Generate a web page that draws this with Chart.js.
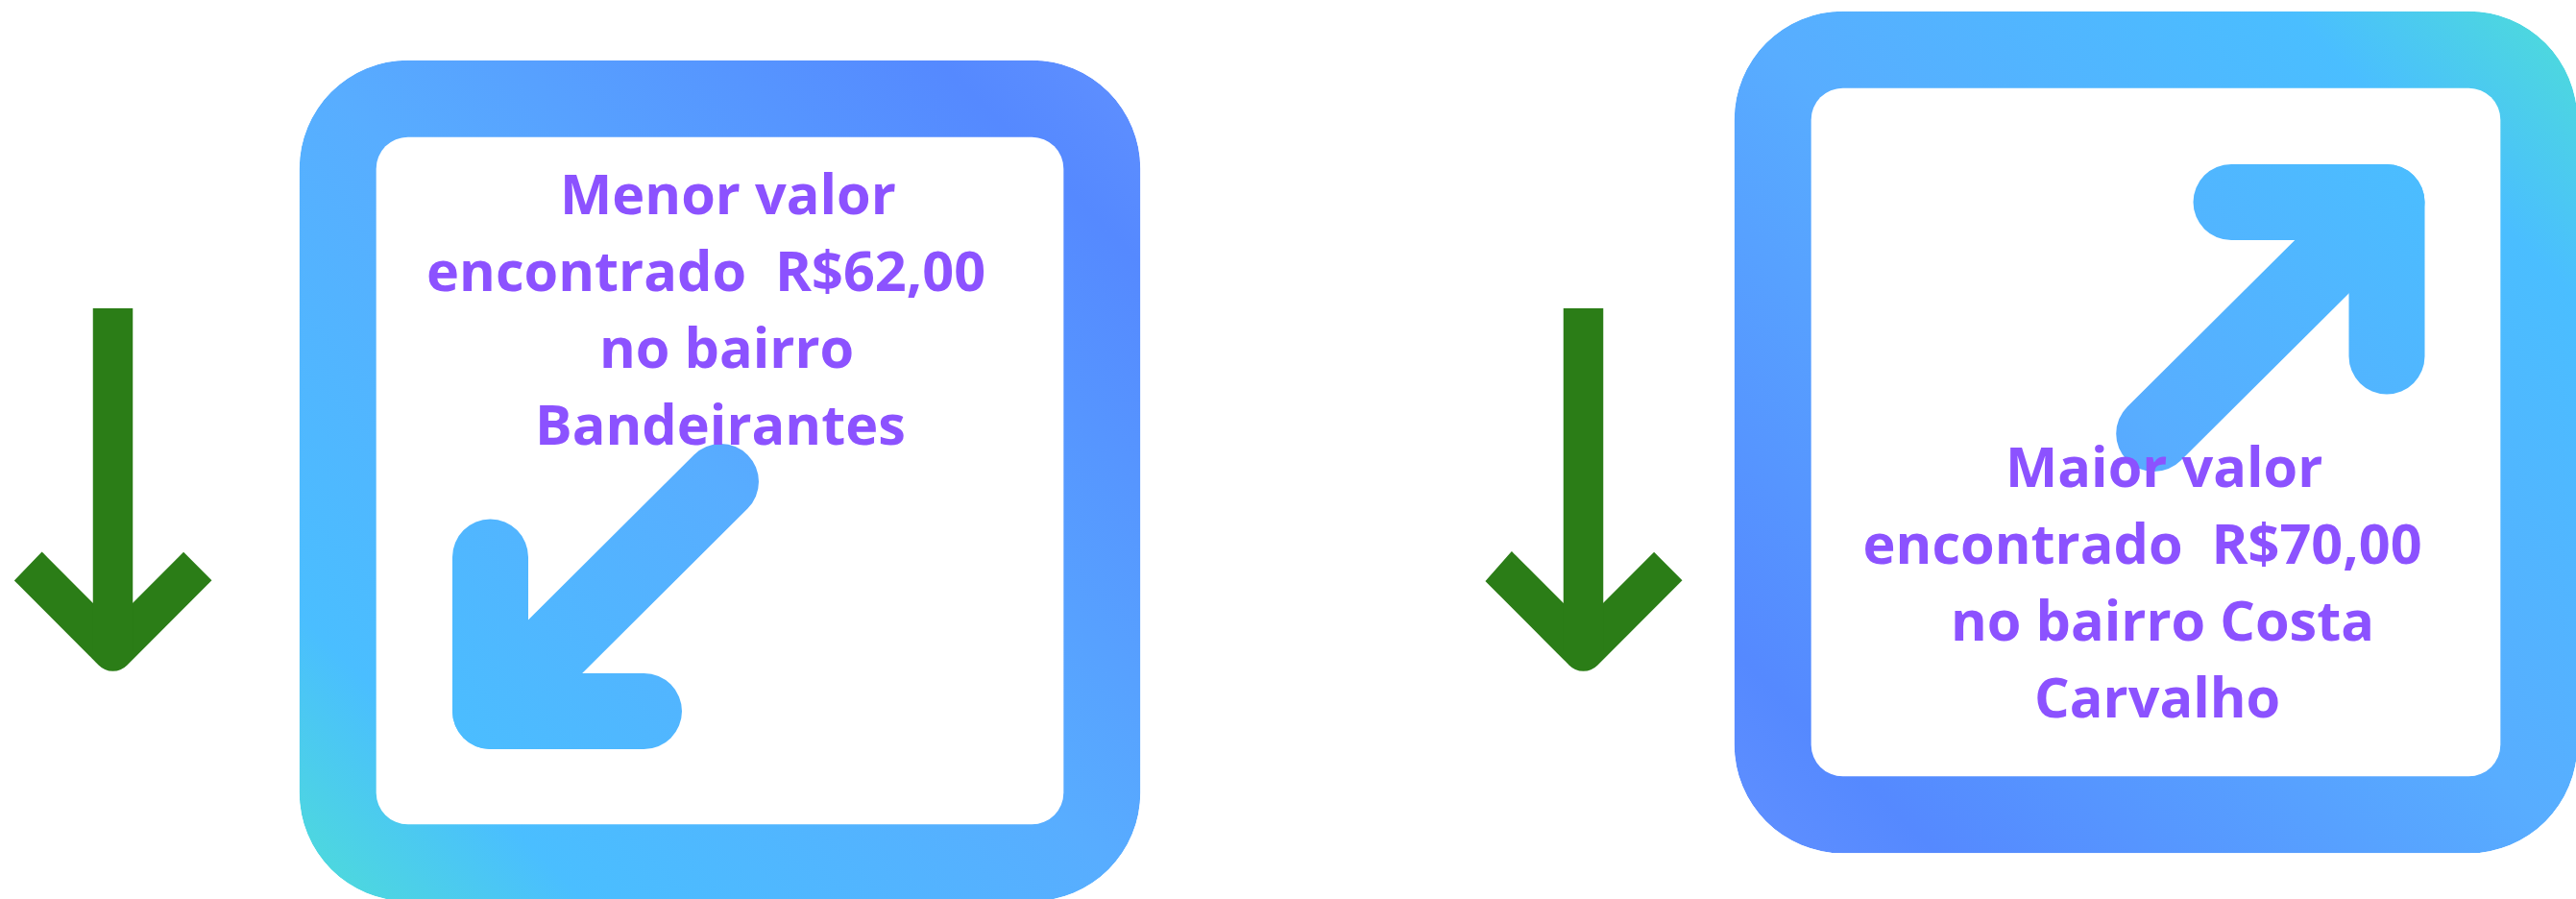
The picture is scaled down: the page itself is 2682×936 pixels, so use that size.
<!DOCTYPE html>
<html>
<head>
<meta charset="utf-8">
<style>html,body{margin:0;padding:0;background:#fff;overflow:hidden}canvas{display:block}</style>
<script src="https://cdn.jsdelivr.net/npm/chart.js@4/dist/chart.umd.min.js"></script>
</head>
<body>
<canvas id="c" width="2682" height="936"></canvas>
<script>
// panel frames: centre x, y range
const panelCentreX = [749.5, 2244.5];
const panelRangeY = [[63, 938], [12, 888]];
// gradient axes of the two icons, [x0,y0,x1,y1]
const gradientAxes = [[312, 938, 1187, 63], [2682, 12, 1805, 888]];
const gradientStops = [[0.03, '#4DD8DE'], [0.17, '#4ABEFF'], [0.5, '#58ADFF'], [0.88, '#5589FF'], [1, '#6090FF']];
// arrows inside the panels
const lowArrowBarb = [[510.5, 580], [510.5, 740.5], [670.5, 740.5]];
const lowArrowShaft = [[750.5, 501.5], [510.5, 740.5]];
const highArrowBarb = [[2323, 210.5], [2485, 210.5], [2485, 371]];
const highArrowShaft = [[2242.7, 451.5], [2485, 210.5]];
// green arrows
const greenShaftLeft = [[117.5, 321], [117.5, 678]];
const greenHeadLeft = [[29.2, 589.5], [117.5, 678], [205.8, 589.5]];
const greenShaftRight = [[1648.5, 321], [1648.5, 678]];
const greenHeadRight = [[1560.2, 589.5], [1648.5, 678], [1736.8, 589.5]];
// text lines: [text, left x, baseline y]
const lowText = [['Menor valor', 583, 223], ['encontrado  R$62,00', 444, 303], ['no bairro', 624, 383], ['Bandeirantes', 557, 463]];
const highText = [['Maior valor', 2088, 507], ['encontrado  R$70,00', 1939.5, 587], ['no bairro Costa', 2031, 667], ['Carvalho', 2118, 747]];

const pts = a => a.map(p => ({x: p[0], y: p[1]}));
function grad(i) {
  return ctx => {
    const ch = ctx.chart, sx = ch.scales && ch.scales.x, sy = ch.scales && ch.scales.y;
    if (!sx || !sy) return '#4ABEFF';
    const a = gradientAxes[i];
    const c = [sx.getPixelForValue(a[0]), sy.getPixelForValue(a[1]), sx.getPixelForValue(a[2]), sy.getPixelForValue(a[3])];
    if (!c.every(Number.isFinite)) return '#4ABEFF';
    const g = ch.ctx.createLinearGradient(c[0], c[1], c[2], c[3]);
    gradientStops.forEach(s => g.addColorStop(s[0], s[1]));
    return g;
  };
}
const panel = (i, w) => ({
  type: 'bar', order: 5, grouped: false, barThickness: w,
  data: [{x: panelCentreX[i], y: panelRangeY[i]}],
  backgroundColor: '#FFFFFF', borderColor: grad(i), borderWidth: 80,
  borderRadius: 113, borderSkipped: false
});
const stroke = (data, color, cap, order) => ({
  type: 'line', order, data: pts(data), borderColor: color, borderWidth: 79,
  borderCapStyle: cap, borderJoinStyle: 'round', pointRadius: 0, tension: 0.00001, fill: false
});
const green = (data) => Object.assign(stroke(data, '#2B7D17', 'butt', 1), {borderWidth: 41.5});

const textPlugin = {
  id: 'panelText',
  afterDatasetsDraw(ch) {
    const c = ch.ctx;
    c.save();
    c.fillStyle = '#8C52FF';
    c.font = 'bold 57.6px "Open Sans"';
    c.textAlign = 'left';
    c.textBaseline = 'alphabetic';
    lowText.concat(highText).forEach(t => {
      c.fillText(t[0], ch.scales.x.getPixelForValue(t[1]), ch.scales.y.getPixelForValue(t[2]));
    });
    c.restore();
  }
};

new Chart(document.getElementById('c'), {
  type: 'bar',
  data: {datasets: [
    panel(0, 875), panel(1, 877),
    stroke(lowArrowBarb, grad(0), 'round', 2), stroke(lowArrowShaft, grad(0), 'round', 2),
    stroke(highArrowBarb, grad(1), 'round', 2), stroke(highArrowShaft, grad(1), 'round', 2),
    green(greenShaftLeft), green(greenHeadLeft), green(greenShaftRight), green(greenHeadRight)
  ]},
  options: {
    responsive: false, animation: false, devicePixelRatio: 1,
    layout: {padding: 0},
    plugins: {legend: {display: false}, tooltip: {enabled: false}, title: {display: false}},
    scales: {
      x: {type: 'linear', display: false, min: 0, max: 2682, offset: false},
      y: {type: 'linear', display: false, min: 0, max: 936, reverse: true}
    }
  },
  plugins: [textPlugin]
});
</script>
</body>
</html>
